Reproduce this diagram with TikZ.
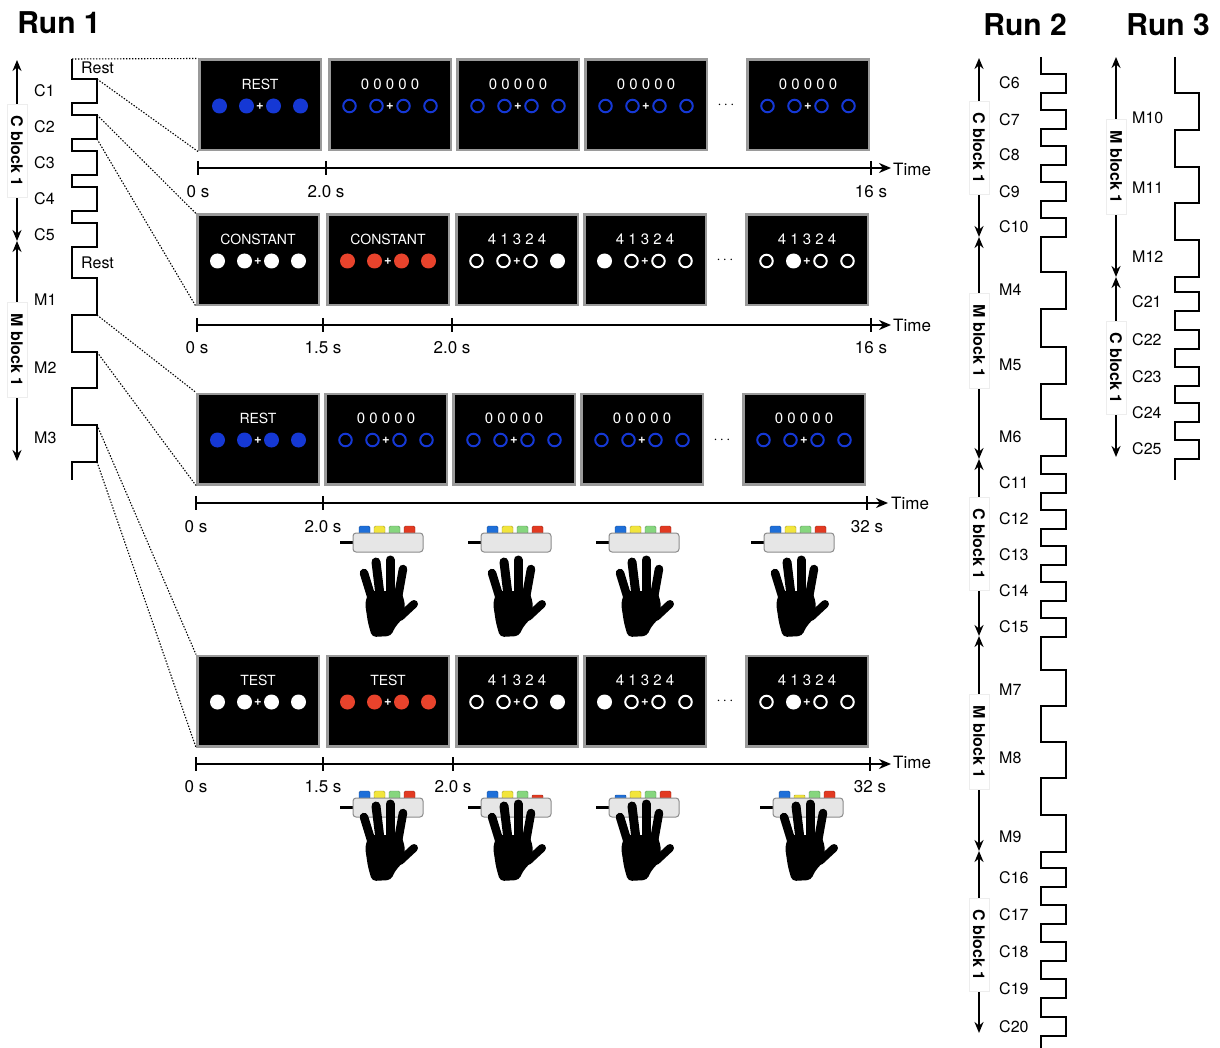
\documentclass[tikz,border=0pt]{standalone}
\usepackage{fontspec}
\setmainfont{TeX Gyre Heros}
\usetikzlibrary{arrows.meta}

\definecolor{scrblue}{HTML}{1538D4}
\definecolor{scrred}{HTML}{E8432C}
\definecolor{kblue}{HTML}{1E6FD9}
\definecolor{kyellow}{HTML}{F2E53C}
\definecolor{kgreen}{HTML}{86D67E}
\definecolor{kred}{HTML}{E23A22}
\definecolor{panelgray}{HTML}{9A9A9A}
\definecolor{padgray}{HTML}{E6E6E6}

% one stimulus screen: name, left x, top y, caption, four dot styles
\newcommand\screen[5]{%
  \node[panel] (#1) at (#2+62,#3+46) {};
  \node[captxt] (#1-cap) at (#2+62,#3+25) {#4};
  \foreach \s [count=\i] in {#5} {
    \node[\s] (#1-d\i) at ({#2+62+27*\i-67.5},#3+47) {};
  }
  \node[plus] (#1-plus) at (#2+62,#3+47) {+};
}

% digit sequence shown on a screen
\newcommand\digs[1]{{\fontsize{15}{16}\selectfont #1}}

% response pad: center x, body top y, index of the pressed key (0 = none)
\newcommand\respad[3]{%
  \draw[line width=3pt] (#1-48,#2+9) -- (#1-35,#2+9);
  \foreach \c [count=\i] in {kblue,kyellow,kgreen,kred} {
    \ifnum\i=#3
      \draw[fill=\c,draw=\c!70!black,line width=0.4pt,rounded corners=1pt] ({#1-44+15*\i},#2-3) rectangle ({#1-33+15*\i},#2+1);
    \else
      \draw[fill=\c,draw=\c!70!black,line width=0.4pt,rounded corners=1.5pt] ({#1-44+15*\i},#2-7) rectangle ({#1-33+15*\i},#2+1);
    \fi
  }
  \draw[fill=padgray,draw=black!45,line width=1pt,rounded corners=3pt] (#1-35,#2) rectangle (#1+35,#2+19);
}

\begin{document}
\begin{tikzpicture}[x=1pt,y=-1pt,
  title/.style={font=\bfseries\fontsize{30}{32}\selectfont,inner sep=0pt},
  lbl/.style={font=\fontsize{16}{18}\selectfont,inner sep=0pt},
  tlbl/.style={font=\fontsize{17}{19}\selectfont,inner sep=0pt},
  panel/.style={draw=panelgray,line width=2.5pt,fill=black,minimum width=121.5pt,minimum height=90.5pt,inner sep=0pt},
  captxt/.style={text=white,font=\fontsize{14}{16}\selectfont,inner sep=0pt},
  plus/.style={text=white,font=\bfseries\fontsize{13}{14}\selectfont,inner sep=0pt},
  fB/.style={circle,inner sep=0pt,minimum size=15pt,fill=scrblue},
  oB/.style={circle,inner sep=0pt,minimum size=12.5pt,draw=scrblue,line width=2pt},
  fW/.style={circle,inner sep=0pt,minimum size=15pt,fill=white},
  oW/.style={circle,inner sep=0pt,minimum size=12.5pt,draw=white,line width=2pt},
  fR/.style={circle,inner sep=0pt,minimum size=15pt,fill=scrred},
  dots/.style={font=\fontsize{14}{16}\selectfont,inner sep=0pt},
  wave/.style={line width=2.8pt,line join=miter},
  blockarrow/.style={line width=2.2pt,{Stealth[length=11pt,width=9pt]}-{Stealth[length=11pt,width=9pt]}},
  blocklbl/.style={fill=white,draw=black!7,line width=0.5pt,rotate=-90,font=\bfseries\fontsize{16}{18}\selectfont,inner xsep=11pt,inner ysep=4pt},
  axis/.style={line width=1.9pt,-{Stealth[length=12pt,width=10pt]}},
  tick/.style={line width=1.9pt},
  zoomline/.style={line width=1.1pt,dash pattern=on 1.4pt off 1.6pt},
  hand/.pic={
    \fill[black,rounded corners=4pt] (-19,-6) -- (13,-6) -- (17,6) -- (16,20) -- (7,30) -- (3,39) -- (-16,40) -- (-20,26) -- (-23,6) -- cycle;
    \draw[line width=8.5pt,line cap=round] (-16,2) -- (-24,-24);
    \draw[line width=9pt,line cap=round] (-8,-2) -- (-12,-35);
    \draw[line width=9pt,line cap=round] (2,-2) -- (2,-37);
    \draw[line width=8.5pt,line cap=round] (10,0) -- (15,-28);
    \draw[line width=8pt,line cap=round] (12,20) -- (26,7);
  }
]
\useasboundingbox (0,0) rectangle (1220,1048);
\fill[white] (0,0) rectangle (1220,1048);

% ---------------- titles
\node[title] (run1) at (59,23) {Run 1};
\node[title] (run2) at (1025,25) {Run 2};
\node[title] (run3) at (1168,25) {Run 3};

% ---------------- Run 1 block time course
\draw[wave] (72,59) foreach \a/\b in {79/103,115/139,151/175,187/211,223/247,278/315,352/388,425/462} { -- (72,\a) -- (97,\a) -- (97,\b) -- (72,\b) } -- (72,480);
\node[lbl,anchor=west] (rest1) at (81,68) {Rest};
\node[lbl,anchor=west] (rest2) at (81,263) {Rest};
\foreach \t/\y in {C1/91,C2/127,C3/163,C4/199,C5/235,M1/300,M2/368,M3/438}
  \node[lbl,anchor=west] (r1-\t) at (34,\y) {\t};
\coordinate (r1a0) at (17,60);  \coordinate (r1a1) at (17,241);  \coordinate (r1a2) at (17,461);
\draw[blockarrow] (r1a0) -- (r1a1);
\draw[blockarrow] (r1a1) -- (r1a2);
\node[blocklbl] (r1cb) at (17,151) {C block 1};
\node[blocklbl] (r1mb) at (17,350) {M block 1};

% ---------------- Run 2 block time course
\draw[wave] (1041,57) foreach \a/\b in {74/93,110/129,146/165,182/201,218/237,272/309,347/384,419/456,474/493,510/529,546/565,582/601,618/637,670/706,742/778,815/852,868/887,905/924,942/961,979/998,1017/1036} { -- (1041,\a) -- (1066,\a) -- (1066,\b) -- (1041,\b) } -- (1041,1048);
\foreach \t/\y in {C6/83,C7/120,C8/155,C9/192,C10/227,M4/290,M5/365,M6/437,C11/483,C12/519,C13/555,C14/591,C15/627,M7/690,M8/758,M9/837,C16/878,C17/915,C18/952,C19/989,C20/1027}
  \node[lbl,anchor=west] (r2-\t) at (999,\y) {\t};
\coordinate (r2a0) at (979,58);   \coordinate (r2a1) at (979,237);  \coordinate (r2a2) at (979,459);
\coordinate (r2a3) at (979,636);  \coordinate (r2a4) at (979,851);  \coordinate (r2a5) at (979,1033);
\draw[blockarrow] (r2a0) -- (r2a1);
\draw[blockarrow] (r2a1) -- (r2a2);
\draw[blockarrow] (r2a2) -- (r2a3);
\draw[blockarrow] (r2a3) -- (r2a4);
\draw[blockarrow] (r2a4) -- (r2a5);
\node[blocklbl] (r2cb1) at (979,148) {C block 1};
\node[blocklbl] (r2mb1) at (979,341) {M block 1};
\node[blocklbl] (r2cb2) at (979,544) {C block 1};
\node[blocklbl] (r2mb2) at (979,742) {M block 1};
\node[blocklbl] (r2cb3) at (979,945) {C block 1};

% ---------------- Run 3 block time course
\draw[wave] (1175,57) foreach \a/\b in {93/130,167/203,240/277,292/311,330/349,367/386,403/422,440/459} { -- (1175,\a) -- (1199,\a) -- (1199,\b) -- (1175,\b) } -- (1175,480);
\foreach \t/\y in {M10/118,M11/188,M12/257,C21/302,C22/340,C23/377,C24/413,C25/449}
  \node[lbl,anchor=west] (r3-\t) at (1132,\y) {\t};
\coordinate (r3a0) at (1116,57);  \coordinate (r3a1) at (1116,277);  \coordinate (r3a2) at (1116,457);
\draw[blockarrow] (r3a0) -- (r3a1);
\draw[blockarrow] (r3a1) -- (r3a2);
\node[blocklbl] (r3mb) at (1116,167) {M block 1};
\node[blocklbl] (r3cb) at (1116,368) {C block 1};

% ---------------- row 1: rest trial
\screen{r1p1}{198}{59}{REST}{fB,fB,fB,fB}
\screen{r1p2}{328}{59}{\digs{0 0 0 0 0}}{oB,oB,oB,oB}
\screen{r1p3}{456}{59}{\digs{0 0 0 0 0}}{oB,oB,oB,oB}
\screen{r1p4}{584}{59}{\digs{0 0 0 0 0}}{oB,oB,oB,oB}
\screen{r1p5}{746}{59}{\digs{0 0 0 0 0}}{oB,oB,oB,oB}
\node[dots] (r1dots) at (726,105) {$\cdots$};
\coordinate (t1s) at (198,168); \coordinate (t1e) at (891,168);
\draw[axis] (t1s) -- (t1e);
\foreach \x/\t in {198/0 s,326/2.0 s,871/16 s} {
  \draw[tick] (\x,161) -- (\x,175);
  \node[tlbl] at (\x,192) {\t};
}
\node[tlbl,anchor=west] (time1) at (893,169) {Time};

% ---------------- row 2: constant trial
\screen{r2p1}{196}{214}{CONSTANT}{fW,fW,fW,fW}
\screen{r2p2}{326}{214}{CONSTANT}{fR,fR,fR,fR}
\screen{r2p3}{455}{214}{\digs{4 1 3 2 4}}{oW,oW,oW,fW}
\screen{r2p4}{583}{214}{\digs{4 1 3 2 4}}{fW,oW,oW,oW}
\screen{r2p5}{745}{214}{\digs{4 1 3 2 4}}{oW,fW,oW,oW}
\node[dots] (r2dots) at (725,260) {$\cdots$};
\coordinate (t2s) at (197,325); \coordinate (t2e) at (891,325);
\draw[axis] (t2s) -- (t2e);
\foreach \x/\t in {197/0 s,323/1.5 s,452/2.0 s,871/16 s} {
  \draw[tick] (\x,318) -- (\x,332);
  \node[tlbl] at (\x,348) {\t};
}
\node[tlbl,anchor=west] (time2) at (893,325) {Time};

% ---------------- row 3: rest trial with response pad
\screen{r3p1}{196}{393}{REST}{fB,fB,fB,fB}
\screen{r3p2}{324}{393}{\digs{0 0 0 0 0}}{oB,oB,oB,oB}
\screen{r3p3}{452}{393}{\digs{0 0 0 0 0}}{oB,oB,oB,oB}
\screen{r3p4}{580}{393}{\digs{0 0 0 0 0}}{oB,oB,oB,oB}
\screen{r3p5}{742}{393}{\digs{0 0 0 0 0}}{oB,oB,oB,oB}
\node[dots] (r3dots) at (722,440) {$\cdots$};
\coordinate (t3s) at (196,503); \coordinate (t3e) at (888,503);
\draw[axis] (t3s) -- (t3e);
\foreach \x/\t in {196/0 s,323/2.0 s,867/32 s} {
  \draw[tick] (\x,496) -- (\x,510);
  \node[tlbl] at (\x,527) {\t};
}
\node[tlbl,anchor=west] (time3) at (891,503) {Time};
\foreach \x in {388,516,644,799} {
  \respad{\x}{533}{0}
  \pic at (\x,597) {hand};
}

% ---------------- row 4: test trial with key presses
\screen{r4p1}{196}{655}{TEST}{fW,fW,fW,fW}
\screen{r4p2}{326}{655}{TEST}{fR,fR,fR,fR}
\screen{r4p3}{455}{655}{\digs{4 1 3 2 4}}{oW,oW,oW,fW}
\screen{r4p4}{583}{655}{\digs{4 1 3 2 4}}{fW,oW,oW,oW}
\screen{r4p5}{745}{655}{\digs{4 1 3 2 4}}{oW,fW,oW,oW}
\node[dots] (r4dots) at (725,701) {$\cdots$};
\coordinate (t4s) at (196,764); \coordinate (t4e) at (891,764);
\draw[axis] (t4s) -- (t4e);
\foreach \x/\t in {196/0 s,323/1.5 s,453/2.0 s,870/32 s} {
  \draw[tick] (\x,757) -- (\x,771);
  \node[tlbl] at (\x,787) {\t};
}
\node[tlbl,anchor=west] (time4) at (893,762) {Time};
\foreach \x/\k in {388/0,516/4,644/1,808/2} {
  \respad{\x}{798}{\k}
  \pic at (\x,841) {hand};
}

% ---------------- zoom lines from the time course to the trials
\coordinate (w1a) at (72,59);
\coordinate (w1b) at (97,79);
\coordinate (w1c) at (97,115);
\coordinate (w1d) at (97,139);
\coordinate (w1e) at (97,315);
\coordinate (w1f) at (97,352);
\coordinate (w1g) at (97,425);
\coordinate (w1h) at (97,462);
\draw[zoomline] (w1a) -- (r1p1.north west);
\draw[zoomline] (w1b) -- (r1p1.south west);
\draw[zoomline] (w1c) -- (r2p1.north west);
\draw[zoomline] (w1d) -- (r2p1.south west);
\draw[zoomline] (w1e) -- (r3p1.north west);
\draw[zoomline] (w1f) -- (r3p1.south west);
\draw[zoomline] (w1g) -- (r4p1.north west);
\draw[zoomline] (w1h) -- (r4p1.south west);
\end{tikzpicture}
\end{document}
